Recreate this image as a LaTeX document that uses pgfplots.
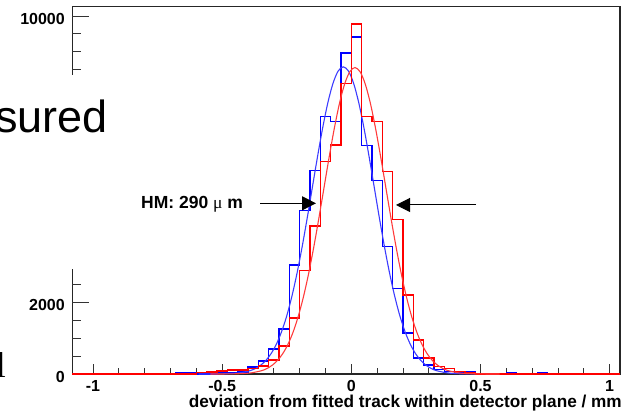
\documentclass[border=0pt]{standalone}
\usepackage{pgfplots}
\pgfplotsset{compat=1.18}
\usepackage{fontspec}
\setmainfont{Liberation Sans}
\newfontfamily\serif{Liberation Serif}
\usetikzlibrary{arrows.meta}
\definecolor{hblue}{RGB}{0,0,255}
\definecolor{hred}{RGB}{255,0,0}
\definecolor{fblue}{RGB}{60,60,255}
\definecolor{fred}{RGB}{255,60,60}
\newcommand{\tlfont}{\bfseries\fontsize{16}{18}\selectfont}
\begin{document}
\begin{tikzpicture}[x=1pt,y=1pt]
\useasboundingbox (0,0) rectangle (633,411);
\begin{axis}[
  at={(72.3pt,37pt)}, anchor=south west,
  scale only axis, width=547.7pt, height=367.3pt,
  xmin=-1.08, xmax=1.04, ymin=0, ymax=10260,
  clip=false,
  axis line style={line width=1.2pt, black!85},
  tick align=inside,
  xtick pos=left, ytick pos=left,
  xtick={-1,-0.5,0,0.5,1},
  xticklabels={-1,-0.5,0,0.5,1},
  minor x tick num=4,
  major tick length=10pt, minor tick length=5.7pt,
  ytick={0,2000,10000},
  yticklabels={0,2000,10000},
  scaled y ticks=false,
  ytick style={draw=none},
  xtick style={line width=0.9pt, black!80},
  tick label style={font=\tlfont, inner sep=0pt},
  xticklabel style={font=\tlfont, inner sep=0pt, anchor=base, yshift=-18pt},
  yticklabel style={font=\tlfont, inner sep=0pt, anchor=base east, xshift=-7.3pt, yshift=-8.2pt},
]
\pgfplotsinvokeforeach{500,1000,...,10000}{
  \draw[line width=0.9pt, black!80] (axis cs:-1.08,#1) -- ++(9pt,0pt);
}
\pgfplotsinvokeforeach{2000,4000,...,10000}{
  \draw[line width=0.9pt, black!80] (axis cs:-1.08,#1) -- ++(17pt,0pt);
}
% blue histogram (bin width 0.04)
\addplot[draw=hblue, line width=1.5pt, mark=none] coordinates {
(-1.08,0) (-0.68,0) (-0.68,35) (-0.60,35) (-0.60,0) (-0.52,0) (-0.52,60) (-0.48,60)
(-0.48,40) (-0.44,40) (-0.44,60) (-0.40,60) (-0.40,200) (-0.36,200) (-0.36,360) (-0.32,360)
(-0.32,700) (-0.28,700) (-0.28,1260) (-0.24,1260) (-0.24,3040) (-0.20,3040) (-0.20,4560) (-0.16,4560)
(-0.16,5680) (-0.12,5680) (-0.12,7190) (-0.08,7190) (-0.08,7050) (-0.04,7050) (-0.04,8970) (0,8970)
(0,9410) (0.04,9410) (0.04,6380) (0.08,6380) (0.08,5400) (0.12,5400) (0.12,3560) (0.16,3560)
(0.16,2390) (0.20,2390) (0.20,1140) (0.24,1140) (0.24,440) (0.28,440) (0.28,250) (0.32,250)
(0.32,130) (0.36,130) (0.36,70) (0.40,70) (0.40,40) (0.44,40) (0.44,50) (0.48,50) (0.48,0)
(0.60,0) (0.60,25) (0.64,25) (0.64,0) (0.72,0) (0.72,40) (0.76,40) (0.76,0) (1.04,0)
};
% blue fit
\addplot[fblue, line width=1.1pt, smooth, mark=none] coordinates {
(-0.591,0) (-0.531,1.5) (-0.471,10) (-0.431,33) (-0.391,95) (-0.371,155) (-0.351,245)
(-0.331,377) (-0.311,564) (-0.291,820) (-0.271,1161) (-0.251,1598)
(-0.231,2140) (-0.211,2786) (-0.191,3527) (-0.171,4344) (-0.151,5204)
(-0.131,6063) (-0.111,6870) (-0.091,7572) (-0.071,8117) (-0.051,8462)
(-0.031,8580) (-0.011,8462) (0.009,8117) (0.029,7572) (0.049,6870)
(0.069,6063) (0.089,5204) (0.109,4344) (0.129,3527) (0.149,2786)
(0.169,2140) (0.189,1598) (0.209,1161) (0.229,820) (0.249,564)
(0.269,377) (0.289,245) (0.309,155) (0.329,95) (0.369,33) (0.409,10) (0.469,1.5) (0.529,0)
};
% red histogram (bin width 0.04)
\addplot[draw=hred, line width=1.5pt, mark=none] coordinates {
(-1.08,0) (-0.60,0) (-0.60,40) (-0.56,40) (-0.56,60) (-0.52,60) (-0.52,80) (-0.48,80)
(-0.48,110) (-0.40,110) (-0.40,160) (-0.36,160) (-0.36,230) (-0.32,230) (-0.32,390) (-0.28,390)
(-0.28,780) (-0.24,780) (-0.24,1560) (-0.20,1560) (-0.20,2890) (-0.16,2890) (-0.16,4140) (-0.12,4140)
(-0.12,5940) (-0.08,5940) (-0.08,6390) (-0.04,6390) (-0.04,8120) (0,8120) (0,9770) (0.04,9770)
(0.04,7190) (0.08,7190) (0.08,7050) (0.12,7050) (0.12,5650) (0.16,5650) (0.16,4320) (0.20,4320)
(0.20,2210) (0.24,2210) (0.24,950) (0.28,950) (0.28,440) (0.32,440) (0.32,205) (0.36,205)
(0.36,160) (0.40,160) (0.40,64) (0.44,64) (0.44,40) (0.48,40) (0.48,0) (1.04,0)
};
% red fit
\addplot[fred, line width=1.1pt, smooth, mark=none] coordinates {
(-0.546,0) (-0.486,1.5) (-0.426,10) (-0.386,33) (-0.346,95) (-0.326,155) (-0.306,245)
(-0.286,376) (-0.266,562) (-0.246,818) (-0.226,1158) (-0.206,1595)
(-0.186,2135) (-0.166,2779) (-0.146,3519) (-0.126,4334) (-0.106,5192)
(-0.086,6049) (-0.066,6854) (-0.046,7554) (-0.026,8098) (-0.006,8442)
(0.014,8560) (0.034,8442) (0.054,8098) (0.074,7554) (0.094,6854)
(0.114,6049) (0.134,5192) (0.154,4334) (0.174,3519) (0.194,2779)
(0.214,2135) (0.234,1595) (0.254,1158) (0.274,818) (0.294,562)
(0.314,376) (0.334,245) (0.354,155) (0.374,95) (0.414,33) (0.454,10) (0.514,1.5) (0.574,0)
};
\end{axis}
% overlay from the slide
\fill[white] (-2,142) rectangle (132,336);
\node[anchor=base east, inner sep=0pt, font=\fontsize{45}{50}\selectfont] at (108,278) {sured};
\node[anchor=base west, inner sep=0pt, font=\bfseries\fontsize{17.5}{19}\selectfont] at (141,202.5) {HM: 290 {\serif\mdseries μ} m};
\draw[line width=1pt, -{Triangle[length=14pt,width=14pt]}] (260,207.7) -- (316,207.7);
\draw[line width=1pt, -{Triangle[length=14pt,width=14pt]}] (476,206) -- (396,206);
\node[anchor=base, inner sep=0pt, font=\serif\fontsize{36}{40}\selectfont] at (1,33) {l};
\node[anchor=base east, inner sep=0pt, font=\bfseries\fontsize{17.2}{19}\selectfont] at (622,3) {deviation from fitted track within detector plane / mm};
\end{tikzpicture}
\end{document}
